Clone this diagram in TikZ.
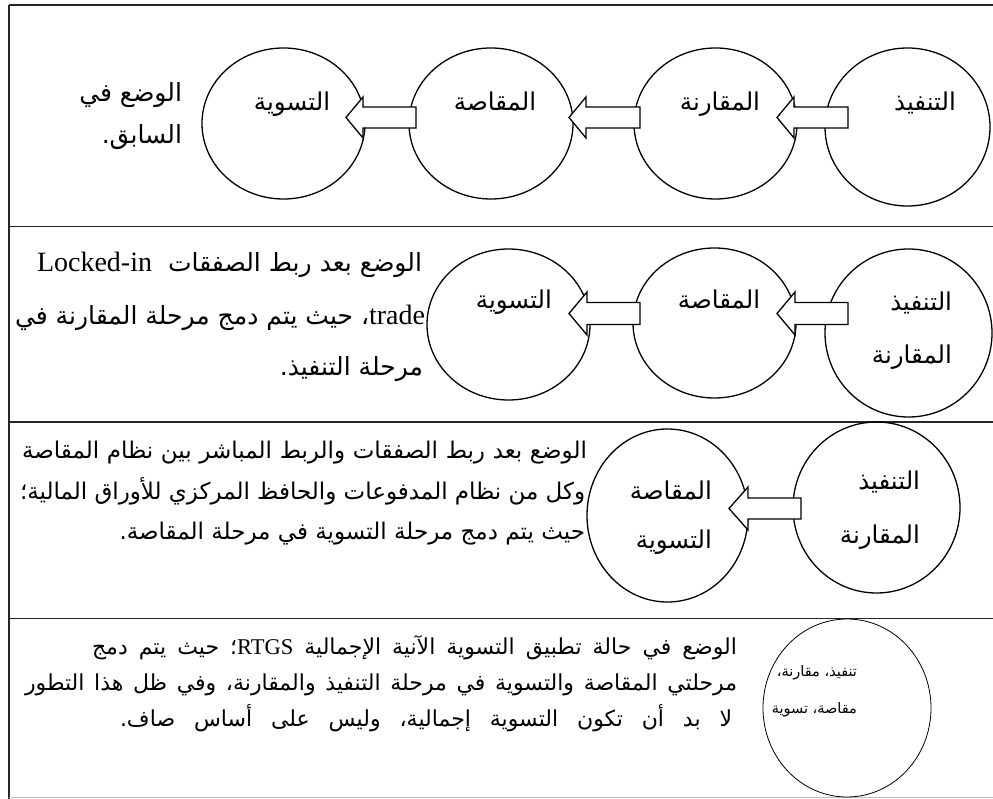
\documentclass[tikz,border=0pt]{standalone}
\usepackage{fontspec}
\usetikzlibrary{calc,shapes.geometric}
\TeXXeTstate=1
\newfontfamily\ar[Script=Arabic]{DejaVu Sans}
\newfontfamily\lat{Liberation Serif}
\newcommand\BArrow[5]{% tip, tail, shaft half, head half, head length
  \draw[barrow] (#1) -- ($(#1)+(#5,-#4)$) -- ($(#1)+(#5,-#3)$) -- ($(#2)+(0,-#3)$)
    -- ($(#2)+(0,#3)$) -- ($(#1)+(#5,#3)$) -- ($(#1)+(#5,#4)$) -- cycle;}
\tikzset{
  frame/.style={line width=1.5pt, draw=black!85},
  stage/.style={draw, ellipse, line width=1.3pt, inner sep=0pt, outer sep=0pt},
  barrow/.style={draw, fill=white, line width=1.3pt, line join=miter},
  ctext/.style={inner sep=0pt, outer sep=0pt, font=\ar\fontsize{24.5}{24.5}\selectfont},
  ptext/.style={inner sep=0pt, outer sep=0pt, font=\ar\fontsize{25}{25}\selectfont},
  qtext/.style={inner sep=0pt, outer sep=0pt, font=\ar\fontsize{23}{23}\selectfont},
  rtext/.style={inner sep=0pt, outer sep=0pt, font=\ar\fontsize{22}{22}\selectfont},
  stext/.style={inner sep=0pt, outer sep=0pt, font=\ar\fontsize{14.5}{14.5}\selectfont},
}
\begin{document}
\begin{tikzpicture}[x=1pt,y=-1pt]
\useasboundingbox (0,0) rectangle (993,799);
% frame
\draw[frame] (9,5) -- (993,5);
\draw[frame] (9,5) -- (9,799);
\draw[frame] (9,226.5) -- (993,226.5);
\draw[frame] (9,422) -- (993,422);
\draw[frame] (9,618.5) -- (993,618.5);
\draw[line width=1pt, draw=black!25] (9,797.5) -- (993,797.5);

% row 1
\node[stage, minimum width=163pt, minimum height=151pt] (c11) at (283.5,123.5) {};
\node[stage, minimum width=164pt, minimum height=151pt] (c12) at (491,123.5) {};
\node[stage, minimum width=163pt, minimum height=151pt] (c13) at (715.5,123.5) {};
\node[stage, minimum width=165pt, minimum height=158pt] (c14) at (907.5,127) {};
\coordinate (a11t) at (346,117.5); \coordinate (a11e) at (416,117.5);
\coordinate (a12t) at (569,117.5); \coordinate (a12e) at (640,117.5);
\coordinate (a13t) at (777,117.5); \coordinate (a13e) at (848,117.5);
\BArrow{a11t}{a11e}{10.5}{20.5}{17}
\BArrow{a12t}{a12e}{10.5}{20.5}{17}
\BArrow{a13t}{a13e}{10.5}{20.5}{17}
\node[ctext, anchor=base] (t11) at (292,111) {\beginR التسوية\endR};
\node[ctext, anchor=base] (t12) at (495,111) {\beginR المقاصة\endR};
\node[ctext, anchor=base] (t13) at (720,111) {\beginR المقارنة\endR};
\node[ctext, anchor=base] (t14) at (925,111) {\beginR التنفيذ\endR};
\node[ptext, anchor=base east] (p11) at (182,102) {\beginR الوضع في\endR};
\node[ptext, anchor=base east] (p12) at (182,144) {\beginR السابق.\endR};

% row 2
\node[stage, minimum width=163pt, minimum height=151pt] (c21) at (508.5,324.5) {};
\node[stage, minimum width=163pt, minimum height=150pt] (c22) at (714.5,323) {};
\node[stage, minimum width=167pt, minimum height=168pt] (c23) at (908.5,333) {};
\coordinate (a21t) at (569,313.5); \coordinate (a21e) at (640,313.5);
\coordinate (a22t) at (777,313.5); \coordinate (a22e) at (848,313.5);
\BArrow{a21t}{a21e}{11}{21.5}{18}
\BArrow{a22t}{a22e}{11}{21.5}{18}
\node[ctext, anchor=base east] (t21) at (552,309) {\beginR التسوية\endR};
\node[ctext, anchor=base] (t22) at (719,309) {\beginR المقاصة\endR};
\node[ctext, anchor=base east] (t23) at (952,311) {\beginR التنفيذ\endR};
\node[ctext, anchor=base east] (t24) at (952,363) {\beginR المقارنة\endR};
\node[ptext, anchor=base east] (p21) at (422,272) {\hbox to 385pt{\beginR الوضع بعد ربط الصفقات\ \ {\lat\fontsize{28}{28}\selectfont\beginL Locked-in\endL}\endR}};
\node[ptext, anchor=base east] (p22) at (425,325) {\hbox to 410pt{\beginR{\lat\fontsize{28}{28}\selectfont\beginL trade\endL}، حيث يتم دمج مرحلة المقارنة في\endR}};
\node[ptext, anchor=base east] (p23) at (423,376) {\beginR مرحلة التنفيذ.\endR};

% row 3
\node[stage, minimum width=161pt, minimum height=173pt] (c31) at (667.5,515.5) {};
\node[stage, minimum width=167pt, minimum height=171pt] (c32) at (876.5,507.5) {};
\coordinate (a31t) at (729,508.5); \coordinate (a31e) at (801,508.5);
\BArrow{a31t}{a31e}{10.5}{21.5}{19}
\node[ctext, anchor=base east] (t31) at (712,499) {\beginR المقاصة\endR};
\node[ctext, anchor=base east] (t32) at (712,548) {\beginR التسوية\endR};
\node[ctext, anchor=base east] (t33) at (920,489) {\beginR التنفيذ\endR};
\node[ctext, anchor=base east] (t34) at (920,543) {\beginR المقارنة\endR};
\node[qtext, anchor=base east] (p31) at (587,458) {\hbox to 565pt{\beginR الوضع بعد ربط الصفقات والربط المباشر بين نظام المقاصة\endR}};
\node[qtext, anchor=base east] (p32) at (585,499) {\hbox to 565pt{\beginR وكل من نظام المدفوعات والحافظ المركزي للأوراق المالية؛\endR}};
\node[qtext, anchor=base east] (p33) at (585,539) {\beginR حيث يتم دمج مرحلة التسوية في مرحلة المقاصة.\endR};

% row 4
\node[stage, line width=0.8pt, minimum width=168pt, minimum height=178pt] (c41) at (847,708) {};
\node[stext, anchor=base east] (t41) at (857,676) {\beginR تنفيذ، مقارنة،\endR};
\node[stext, anchor=base east] (t42) at (857,713) {\beginR مقاصة، تسوية\endR};
\node[rtext, anchor=base east] (p41) at (737,654) {\hbox to 645pt{\beginR الوضع في حالة تطبيق التسوية الآنية الإجمالية {\lat\fontsize{22.5}{22.5}\selectfont\beginL RTGS\endL}؛ حيث يتم دمج\endR}};
\node[rtext, anchor=base east] (p42) at (737,690) {\hbox to 712pt{\beginR مرحلتي المقاصة والتسوية في مرحلة التنفيذ والمقارنة، وفي ظل هذا التطور\endR}};
\node[rtext, anchor=base east] (p43) at (732,726) {\hbox to 612pt{\beginR لا بد أن تكون التسوية إجمالية، وليس على أساس صاف.\endR}};
\end{tikzpicture}
\end{document}
